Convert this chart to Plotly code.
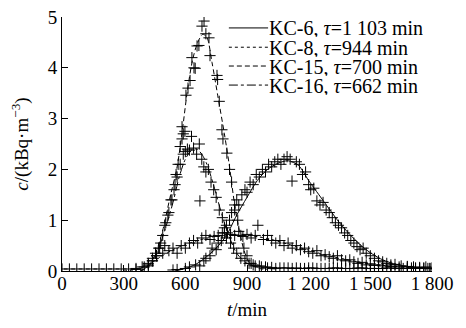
import plotly.graph_objects as go

# ---------------- data ----------------
series_names = ["KC-6, <i>τ</i>=1 103 min", "KC-8, <i>τ</i>=944 min",
                "KC-15, <i>τ</i>=700 min", "KC-16, <i>τ</i>=662 min"]

# fitted curves
kc6_t = [550, 600, 650, 700, 750, 800, 850, 900, 950, 1000, 1050, 1100, 1150, 1200, 1250, 1300,
         1350, 1400, 1450, 1500, 1550, 1600, 1650, 1700, 1750, 1800]
kc6_c = [0.0, 0.05, 0.13, 0.27, 0.45, 0.7, 1.1, 1.45, 1.78, 2.0, 2.12, 2.17, 2.08, 1.78, 1.5, 1.22,
         0.95, 0.72, 0.52, 0.36, 0.24, 0.16, 0.11, 0.08, 0.06, 0.05]

kc8_t = [300, 360, 420, 480, 540, 600, 660, 720, 780, 840, 900, 960, 1020, 1080, 1140, 1200, 1260,
         1320, 1380, 1440, 1500, 1560, 1620, 1680, 1740, 1800]
kc8_c = [0.0, 0.03, 0.12, 0.28, 0.42, 0.52, 0.6, 0.66, 0.7, 0.71, 0.7, 0.67, 0.62, 0.55, 0.48, 0.41,
         0.34, 0.28, 0.23, 0.18, 0.14, 0.11, 0.09, 0.07, 0.05, 0.04]

kc15_t = [380, 420, 460, 490, 525, 560, 585, 610, 635, 660, 685, 705, 730, 760, 790, 815, 840, 865,
          890, 920, 960, 1000]
kc15_c = [0.0, 0.08, 0.4, 0.8, 1.44, 2.05, 2.75, 3.55, 4.15, 4.5, 4.66, 4.6, 4.1, 3.4, 2.7, 2.05,
          1.3, 0.75, 0.35, 0.12, 0.05, 0.03]

kc16_t = [380, 420, 460, 500, 540, 570, 600, 630, 656, 680, 705, 736, 768, 802, 850, 900, 950, 1000,
          1050]
kc16_c = [0.0, 0.1, 0.35, 0.8, 1.35, 1.85, 2.2, 2.38, 2.4, 2.3, 2.1, 1.71, 1.25, 0.8, 0.35, 0.15,
          0.08, 0.05, 0.04]

# measured points
kc6_mt = [540, 560, 600, 620, 650, 670, 690, 700, 720, 730, 750, 760, 775, 790, 800, 815, 825, 840,
          850, 860, 875, 890, 900, 915, 930, 945, 960, 975, 990, 1005, 1020, 1035, 1050, 1065, 1080,
          1095, 1110, 1119, 1140, 1155, 1170, 1185, 1200, 1210, 1225, 1240, 1255, 1270, 1285, 1300,
          1315, 1330, 1345, 1360, 1375, 1390, 1405, 1420, 1435, 1450, 1465, 1480, 1500, 1520, 1540,
          1560, 1580, 1600, 1620, 1650, 1680, 1710, 1740, 1770, 1800]
kc6_mc = [0.02, 0.03, 0.05, 0.08, 0.12, 0.1, 0.2, 0.25, 0.3, 0.45, 0.42, 0.55, 0.6, 0.75, 0.9, 1.0,
          1.15, 1.2, 1.4, 1.3, 1.5, 1.6, 1.55, 1.75, 1.7, 1.9, 1.85, 2.0, 1.95, 2.1, 2.05, 2.15, 2.2,
          2.1, 2.2, 2.25, 2.2, 1.77, 2.15, 2.1, 1.9, 1.95, 1.7, 1.6, 1.63, 1.38, 1.3, 1.35, 1.2, 1.15,
          1.05, 0.95, 0.9, 0.85, 0.75, 0.7, 0.6, 0.55, 0.48, 0.42, 0.45, 0.35, 0.3, 0.25, 0.2, 0.18,
          0.15, 0.12, 0.13, 0.1, 0.09, 0.08, 0.07, 0.08, 0.06]

kc8_mt = [360, 390, 420, 440, 460, 475, 490, 500, 520, 540, 560, 580, 600, 620, 640, 660, 680, 700,
          720, 740, 760, 780, 800, 820, 840, 860, 880, 900, 920, 940, 953, 980, 1000, 1020, 1040,
          1060, 1080, 1100, 1120, 1140, 1160, 1180, 1200, 1220, 1240, 1260, 1280, 1300, 1320, 1340,
          1360, 1380, 1400, 1420, 1440, 1460, 1480, 1500, 1520, 1540, 1560, 1600, 1640, 1680, 1720,
          1760, 1790]
kc8_mc = [0.03, 0.08, 0.15, 0.25, 0.3, 0.45, 0.35, 0.5, 0.4, 0.45, 0.35, 0.5, 0.45, 0.55, 0.6, 0.55,
          0.65, 0.7, 0.62, 0.68, 0.7, 0.75, 0.65, 0.72, 0.7, 0.78, 0.68, 0.72, 0.65, 0.7, 0.9, 0.62,
          0.7, 0.6, 0.55, 0.6, 0.5, 0.55, 0.45, 0.5, 0.42, 0.45, 0.38, 0.35, 0.4, 0.3, 0.32, 0.28,
          0.25, 0.3, 0.22, 0.2, 0.22, 0.18, 0.15, 0.17, 0.12, 0.14, 0.11, 0.12, 0.1, 0.09, 0.08, 0.08,
          0.06, 0.06, 0.05]

kc15_mt = [0, 36, 72, 108, 144, 180, 216, 252, 288, 324, 360, 400, 420, 440, 460, 480, 500, 515,
           530, 545, 555, 565, 575, 584, 590, 603, 613, 623, 632, 642, 648, 657, 666, 681, 691, 700,
           715, 720, 754, 757, 765, 778, 783, 802, 815, 825, 840, 855, 870, 885, 900, 920, 940, 970,
           1000, 1040, 1080, 1120, 1160, 1200, 1240, 1280, 1320, 1360, 1400, 1440, 1480, 1520, 1560,
           1600, 1640, 1680, 1720, 1760, 1790]
kc15_mc = [0.04, 0.04, 0.04, 0.04, 0.04, 0.04, 0.04, 0.04, 0.04, 0.04, 0.05, 0.08, 0.12, 0.2, 0.3,
           0.55, 0.9, 1.1, 1.4, 1.6, 1.9, 2.1, 2.45, 2.84, 2.7, 3.46, 3.6, 3.75, 4.2, 4.0, 3.99, 4.43,
           4.44, 4.82, 4.92, 4.67, 4.59, 4.24, 3.85, 3.77, 3.34, 2.78, 2.6, 2.32, 2.0, 1.75, 1.3, 1.0,
           0.7, 0.45, 0.3, 0.15, 0.1, 0.08, 0.06, 0.05, 0.06, 0.05, 0.05, 0.06, 0.05, 0.05, 0.06,
           0.05, 0.05, 0.06, 0.05, 0.05, 0.05, 0.06, 0.05, 0.05, 0.05, 0.05, 0.05]

kc16_mt = [420, 440, 455, 470, 490, 505, 520, 535, 550, 560, 575, 584, 590, 598, 600, 610, 620, 630,
           640, 655, 668, 671, 680, 690, 700, 712, 725, 738, 750, 765, 780, 790, 805, 820, 835, 850,
           870, 890, 910, 930, 960, 990, 1020, 1060, 1100, 1140, 1180, 1220, 1260, 1300, 1340, 1380,
           1420, 1460, 1500, 1540, 1580, 1620, 1660, 1700, 1740, 1780]
kc16_mc = [0.1, 0.2, 0.35, 0.45, 0.7, 0.95, 1.15, 1.4, 1.7, 1.85, 2.1, 2.6, 2.3, 2.75, 2.35, 2.4,
           2.38, 2.65, 2.42, 2.3, 2.5, 1.38, 2.2, 2.05, 1.95, 2.0, 1.75, 1.6, 1.45, 1.2, 1.05, 0.85,
           0.75, 0.55, 0.45, 0.35, 0.25, 0.2, 0.15, 0.12, 0.1, 0.08, 0.07, 0.06, 0.06, 0.06, 0.05,
           0.06, 0.05, 0.05, 0.06, 0.05, 0.05, 0.06, 0.05, 0.05, 0.06, 0.05, 0.05, 0.06, 0.05, 0.05]

x_tickvals = [0, 300, 600, 900, 1200, 1500, 1800]
x_ticktext = ["0", "300", "600", "900", "1 200", "1 500", "1 800"]
y_tickvals = [0, 1, 2, 3, 4, 5]

# ---------------- figure ----------------
FONT = "Liberation Serif, Times New Roman, serif"
FS = 19
fig = go.Figure()

curves = [(kc6_t, kc6_c, "solid"), (kc8_t, kc8_c, "dot"),
          (kc15_t, kc15_c, "5px,3px"), (kc16_t, kc16_c, "dashdot")]
points = [(kc6_mt, kc6_mc), (kc8_mt, kc8_mc), (kc15_mt, kc15_mc), (kc16_mt, kc16_mc)]

for (mt, mc), name in zip(points, series_names):
    fig.add_trace(go.Scatter(
        x=mt, y=mc, mode="markers", showlegend=False, name=name,
        marker=dict(symbol="cross-thin", size=8, line=dict(color="black", width=1), color="black")))

for (t, c, dash), name in zip(curves, series_names):
    fig.add_trace(go.Scatter(
        x=t, y=c, mode="lines", showlegend=False, name=name,
        line=dict(color="black", width=1, dash=dash, shape="spline", smoothing=0.8)))

# hand-made legend (lines + text); page body has an 8px margin, so the
# figure is 450x312 and offset accordingly
leg_rows = [0.957, 0.881, 0.807, 0.732]
dashes = ["solid", "dot", "5px,3px", "dashdot"]
for yy, dash, name in zip(leg_rows, dashes, series_names):
    fig.add_shape(type="line", xref="paper", yref="paper", x0=0.451, x1=0.557, y0=yy, y1=yy,
                  line=dict(color="black", width=1, dash=dash))
    fig.add_annotation(xref="paper", yref="paper", x=0.558, y=yy, xanchor="left", yanchor="middle",
                       text=name, showarrow=False, height=19, borderpad=0,
                       font=dict(family=FONT, size=20, color="black"))

fig.update_layout(
    width=450, height=312,
    margin=dict(l=54, r=26, t=9, b=49, autoexpand=False),
    paper_bgcolor="white", plot_bgcolor="white",
    font=dict(family=FONT, size=FS, color="black"),
    showlegend=False,
)
fig.update_xaxes(
    range=[0, 1800], tickvals=x_tickvals, ticktext=x_ticktext, automargin=True,
    showline=True, linecolor="black", linewidth=1, ticks="inside", ticklen=6, tickcolor="black",
    showgrid=False, zeroline=False, tickfont=dict(family=FONT, size=FS), ticklabelstandoff=-5,
    ticklabeloverflow="allow",
    title=dict(text="<i>t</i>/min", font=dict(family=FONT, size=FS), standoff=14),
)
fig.update_yaxes(
    range=[0, 5], tickvals=y_tickvals, automargin=True, ticklabeloverflow="allow",
    showline=True, linecolor="black", linewidth=1, ticks="inside", ticklen=6, tickcolor="black",
    showgrid=False, zeroline=False, tickfont=dict(family=FONT, size=FS),
    title=dict(text="<i>c</i>/(kBq·m<sup>−3</sup>)", font=dict(family=FONT, size=FS), standoff=14),
)

fig.write_html("out.html")
